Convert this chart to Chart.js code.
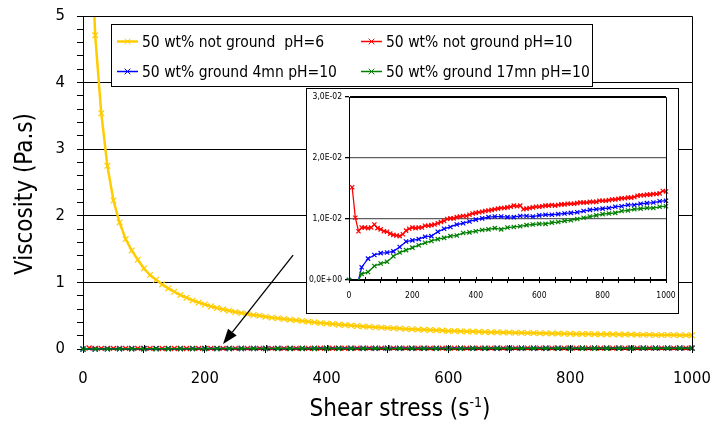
<!DOCTYPE html>
<html>
<head>
<meta charset="utf-8">
<script src="https://cdn.jsdelivr.net/npm/chart.js@4.4.1/dist/chart.umd.min.js"></script>
<style>
  html, body { margin: 0; padding: 0; background: #fff; }
  #wrap { position: relative; width: 711px; height: 423px; overflow: hidden; }
  #main { position: absolute; left: 0; top: 0; }
  #insetBox { position: absolute; left: 306px; top: 88px; width: 371px; height: 224px;
              border: 1px solid #000; background: #fff; }
  #inset { position: absolute; left: 0; top: 0; }
</style>
</head>
<body>
<div id="wrap">
  <canvas id="main" width="711" height="423"></canvas>
  <div id="insetBox"><canvas id="inset" width="371" height="224"></canvas></div>
</div>
<script>
// ---- shear rates (s-1) ----
const shearRate10 = [10,20,30,40,50,60,70,80,90,100,110,120,130,140,150,160,170,180,190,200,
  210,220,230,240,250,260,270,280,290,300,310,320,330,340,350,360,370,380,390,400,
  410,420,430,440,450,460,470,480,490,500,510,520,530,540,550,560,570,580,590,600,
  610,620,630,640,650,660,670,680,690,700,710,720,730,740,750,760,770,780,790,800,
  810,820,830,840,850,860,870,880,890,900,910,920,930,940,950,960,970,980,990,1000];
const shearRate20 = [0,20,40,60,80,100,120,140,160,180,200,220,240,260,280,300,320,340,360,380,
  400,420,440,460,480,500,520,540,560,580,600,620,640,660,680,700,720,740,760,780,
  800,820,840,860,880,900,920,940,960,980,1000];

// ---- viscosity (Pa.s) ----
const notGroundPH6 = [7.0,4.71,3.54,2.75,2.23,1.90,1.65,1.48,1.34,1.21,
  1.11,1.04,0.97,0.91,0.86,0.81,0.77,0.73,0.70,0.67,
  0.64,0.615,0.595,0.575,0.555,0.54,0.525,0.51,0.50,0.485,
  0.47,0.46,0.45,0.44,0.43,0.42,0.41,0.40,0.39,0.382,
  0.374,0.366,0.359,0.352,0.345,0.339,0.333,0.327,0.322,0.317,
  0.312,0.307,0.302,0.297,0.292,0.288,0.284,0.28,0.276,0.272,
  0.269,0.266,0.263,0.261,0.258,0.256,0.253,0.251,0.249,0.247,
  0.245,0.243,0.241,0.239,0.237,0.235,0.234,0.232,0.23,0.229,
  0.227,0.226,0.225,0.223,0.222,0.221,0.22,0.218,0.217,0.216,
  0.215,0.214,0.213,0.212,0.211,0.21,0.209,0.208,0.207,0.206];
const notGroundPH10 = [0.0152,0.0102,0.0080,0.0086,0.0086,0.0085,0.0086,0.0091,0.0085,0.0083,
  0.0080,0.0079,0.0076,0.0074,0.0073,0.0072,0.0075,0.0081,0.0084,0.0086,
  0.0085,0.0086,0.0086,0.0089,0.0089,0.0090,0.0091,0.0093,0.0095,0.0097,
  0.0100,0.0101,0.0101,0.0103,0.0104,0.0105,0.0105,0.0107,0.0109,0.0110,
  0.0111,0.0112,0.0113,0.0114,0.0115,0.0116,0.0117,0.0118,0.0118,0.0119,
  0.0120,0.0122,0.0121,0.0122,0.0116,0.0117,0.0118,0.0119,0.0120,0.0120,
  0.0121,0.0122,0.0122,0.0123,0.0122,0.0123,0.0124,0.0124,0.0125,0.0125,
  0.0125,0.0126,0.0127,0.0127,0.0127,0.0128,0.0128,0.0128,0.0130,0.0130,
  0.0130,0.0131,0.0132,0.0132,0.0133,0.0134,0.0134,0.0135,0.0135,0.0136,
  0.0138,0.0139,0.0139,0.0140,0.0140,0.0141,0.0141,0.0142,0.0146,0.0145];
const ground4mnPH10 = [0,-0.0021,0.0021,0.0035,0.0041,0.0044,0.0045,0.0047,0.0054,0.0063,
  0.0065,0.0067,0.0071,0.0072,0.0079,0.0084,0.0087,0.0091,0.0093,0.0096,
  0.0099,0.0101,0.0103,0.0104,0.0104,0.0103,0.0103,0.0105,0.0105,0.0104,
  0.0106,0.0107,0.0107,0.0108,0.0109,0.0110,0.0111,0.0113,0.0115,0.0116,
  0.0117,0.0118,0.0120,0.0121,0.0123,0.0123,0.0125,0.0126,0.0127,0.0129,
  0.0130];
const ground17mnPH10 = [0,-0.0010,0.0010,0.0013,0.0023,0.0027,0.0030,0.0039,0.0045,0.0049,
  0.0053,0.0057,0.0061,0.0064,0.0067,0.0069,0.0072,0.0073,0.0077,0.0078,
  0.0080,0.0082,0.0083,0.0085,0.0083,0.0086,0.0087,0.0088,0.0090,0.0091,
  0.0092,0.0092,0.0094,0.0095,0.0097,0.0098,0.0100,0.0102,0.0104,0.0106,
  0.0108,0.0109,0.0110,0.0113,0.0114,0.0116,0.0117,0.0118,0.0118,0.0120,
  0.0121];

// ---- labels ----
const seriesLabels = ['50 wt% not ground  pH=6', '50 wt% not ground pH=10',
                      '50 wt% ground 4mn pH=10', '50 wt% ground 17mn pH=10'];
const mainYTickLabels = ['0', '1', '2', '3', '4', '5'];
const insetYTickLabels = ['0,0E+00', '1,0E-02', '2,0E-02', '3,0E-02'];
const xTitle = 'Shear stress (s';
const xTitleSup = '-1';
const yTitle = 'Viscosity (Pa.s)';

const FONT = "'DejaVu Sans Condensed', 'DejaVu Sans', sans-serif";
Chart.defaults.font.family = FONT;
Chart.defaults.color = '#000';

const COLORS = ['#FFCC00', '#FF0000', '#0000FF', '#008000'];

function isWhole(v) { return Math.abs(v - Math.round(v)) < 1e-6; }

function makeSeries(i, xs, ys, width, radius, order, clipBottom) {
  return {
    label: seriesLabels[i],
    data: xs.map((x, k) => ({ x: x, y: ys[k] })),
    borderColor: COLORS[i], backgroundColor: COLORS[i],
    borderWidth: width, pointStyle: 'crossRot', pointRadius: radius,
    pointBorderWidth: 1.2, pointBorderColor: COLORS[i],
    tension: 0, fill: false, order: order,
    clip: { left: 6, right: 6, top: 0, bottom: clipBottom }
  };
}

// keep the plot area exactly where the layout padding puts it
function pinScale(size) {
  return s => {
    if (s.isHorizontal()) s.height = size; else s.width = size;
    s.paddingLeft = 0; s.paddingRight = 0; s.paddingTop = 0; s.paddingBottom = 0;
  };
}

// frame on the top and right of the plot area
const frame = {
  id: 'frame',
  afterDraw(chart) {
    const { ctx, chartArea: a } = chart;
    ctx.save();
    ctx.strokeStyle = '#000'; ctx.lineWidth = 1;
    const l = Math.round(a.left) + 0.5, r = Math.round(a.right) + 0.5;
    const t = Math.round(a.top) + 0.5, b = Math.round(a.bottom) + 0.5;
    ctx.beginPath();
    ctx.moveTo(l, t); ctx.lineTo(r, t); ctx.lineTo(r, b);
    ctx.stroke();
    ctx.restore();
  }
};

// inner half of the x tick marks (ticks cross the axis)
const crossTicks = {
  id: 'crossTicks',
  afterDraw(chart, args, opts) {
    const { ctx, scales: { x } } = chart;
    const y0 = Math.round(chart.chartArea.bottom);
    ctx.save();
    ctx.strokeStyle = '#000'; ctx.lineWidth = 1;
    x.ticks.forEach(t => {
      const px = Math.round(x.getPixelForValue(t.value)) + 0.5;
      ctx.beginPath(); ctx.moveTo(px, y0 - opts.len); ctx.lineTo(px, y0); ctx.stroke();
    });
    ctx.restore();
  }
};

function drawMarker(ctx, x, y, r, color) {
  const d = r * Math.SQRT1_2;
  ctx.strokeStyle = color; ctx.lineWidth = 1;
  ctx.beginPath();
  ctx.moveTo(x - d, y - d); ctx.lineTo(x + d, y + d);
  ctx.moveTo(x + d, y - d); ctx.lineTo(x - d, y + d);
  ctx.stroke();
}

// boxed two-column legend inside the plot
const boxLegend = {
  id: 'boxLegend',
  afterDraw(chart, args, o) {
    const { ctx } = chart;
    const ds = chart.data.datasets;
    ctx.save();
    ctx.fillStyle = '#fff';
    ctx.fillRect(o.x, o.y, o.w, o.h);
    ctx.strokeStyle = '#000'; ctx.lineWidth = 1;
    ctx.strokeRect(o.x + 0.5, o.y + 0.5, o.w, o.h);
    ctx.font = o.fontSize + 'px ' + FONT;
    ctx.textBaseline = 'middle';
    ctx.textAlign = 'left';
    ds.forEach((d, i) => {
      const col = i % 2, row = Math.floor(i / 2);
      const lx = o.x + o.colX[col], ly = o.y + o.rowY[row];
      ctx.strokeStyle = d.borderColor;
      ctx.lineWidth = d.borderWidth;
      ctx.beginPath(); ctx.moveTo(lx, ly); ctx.lineTo(lx + o.lineLen, ly); ctx.stroke();
      drawMarker(ctx, lx + o.lineLen / 2, ly, 4, d.borderColor);
      ctx.fillStyle = '#000';
      ctx.fillText(d.label, lx + o.lineLen + o.gap, ly + 1);
    });
    ctx.restore();
  }
};

// arrow pointing from the inset down to the near-zero curves
const arrowFrom = { x: 345, y: 1.41 };
const arrowTo = { x: 230, y: 0.075 };
const pointer = {
  id: 'pointer',
  afterDraw(chart) {
    const { ctx, scales: { x, y } } = chart;
    const x1 = x.getPixelForValue(arrowFrom.x), y1 = y.getPixelForValue(arrowFrom.y);
    const x2 = x.getPixelForValue(arrowTo.x), y2 = y.getPixelForValue(arrowTo.y);
    const ang = Math.atan2(y2 - y1, x2 - x1);
    const hl = 15, hw = 5.5;
    const bx = x2 - hl * Math.cos(ang), by = y2 - hl * Math.sin(ang);
    ctx.save();
    ctx.strokeStyle = '#000'; ctx.fillStyle = '#000'; ctx.lineWidth = 1.3;
    ctx.beginPath(); ctx.moveTo(x1, y1); ctx.lineTo(bx, by); ctx.stroke();
    ctx.beginPath();
    ctx.moveTo(x2, y2);
    ctx.lineTo(bx + hw * Math.sin(ang), by - hw * Math.cos(ang));
    ctx.lineTo(bx - hw * Math.sin(ang), by + hw * Math.cos(ang));
    ctx.closePath(); ctx.fill();
    ctx.restore();
  }
};

// axis titles (x title carries a superscript)
const axisTitles = {
  id: 'axisTitles',
  afterDraw(chart, args, o) {
    const { ctx } = chart;
    ctx.save();
    ctx.fillStyle = '#000';
    ctx.textBaseline = 'alphabetic';
    ctx.textAlign = 'left';
    const big = o.size + 'px ' + FONT, small = o.supSize + 'px ' + FONT;
    ctx.font = big;
    const w1 = ctx.measureText(xTitle).width, w3 = ctx.measureText(')').width;
    ctx.font = small;
    const w2 = ctx.measureText(xTitleSup).width;
    let sx = o.xCenter - (w1 + w2 + w3) / 2;
    ctx.font = big; ctx.fillText(xTitle, sx, o.xBase);
    ctx.font = small; ctx.fillText(xTitleSup, sx + w1, o.xBase - o.supRise);
    ctx.font = big; ctx.fillText(')', sx + w1 + w2, o.xBase);
    ctx.translate(o.yTitleX, o.yTitleY);
    ctx.rotate(-Math.PI / 2);
    ctx.textAlign = 'center'; ctx.textBaseline = 'middle';
    ctx.fillText(yTitle, 0, 0);
    ctx.restore();
  }
};

// ---------- main chart ----------
new Chart(document.getElementById('main'), {
  type: 'line',
  data: {
    datasets: [
      makeSeries(0, shearRate10, notGroundPH6, 2.5, 4, 0, 6),
      makeSeries(1, shearRate10, notGroundPH10, 1.5, 3.5, 3, 6),
      makeSeries(2, shearRate20, ground4mnPH10, 1.5, 3.5, 2, 6),
      makeSeries(3, shearRate20, ground17mnPH10, 1.5, 3.5, 1, 6)
    ]
  },
  options: {
    responsive: false, animation: false, events: [],
    layout: { padding: { top: 16, right: 19, left: 0, bottom: 0 } },
    plugins: {
      legend: { display: false }, tooltip: { enabled: false },
      crossTicks: { len: 4 },
      boxLegend: { x: 111, y: 24, w: 481, h: 62, colX: [6, 250], rowY: [17.5, 47.5],
                   lineLen: 21, gap: 4, fontSize: 15.5 },
      axisTitles: { size: 24, supSize: 14, supRise: 9, xCenter: 400, xBase: 416,
                    yTitleX: 26, yTitleY: 194 }
    },
    scales: {
      x: {
        type: 'linear', min: 0, max: 1000,
        ticks: { stepSize: 100, autoSkip: false, maxRotation: 0,
                 callback: v => (v % 200 === 0 ? String(v) : ''),
                 font: { size: 16.5 }, padding: 16 },
        grid: { drawOnChartArea: false, drawTicks: true, tickLength: 4, tickColor: '#000' },
        border: { color: '#000', width: 1 },
        afterFit: pinScale(74)
      },
      y: {
        min: 0, max: 5,
        ticks: { stepSize: 0.2, autoSkip: false,
                 callback: v => (isWhole(v) ? mainYTickLabels[Math.round(v)] : ''),
                 font: { size: 16.5 }, padding: 12 },
        grid: { color: c => (isWhole(c.tick.value) ? '#000' : 'rgba(0,0,0,0)'),
                lineWidth: 1, tickLength: 6, tickColor: '#000' },
        border: { color: '#000', width: 1 },
        afterFit: pinScale(83)
      }
    }
  },
  plugins: [frame, crossTicks, pointer, boxLegend, axisTitles]
});

// ---------- inset (zoom on the pH=10 curves) ----------
new Chart(document.getElementById('inset'), {
  type: 'line',
  data: {
    datasets: [
      makeSeries(1, shearRate10, notGroundPH10, 1.3, 3, 3, 0),
      makeSeries(2, shearRate20, ground4mnPH10, 1.3, 3, 2, 0),
      makeSeries(3, shearRate20, ground17mnPH10, 1.3, 3, 1, 0)
    ]
  },
  options: {
    responsive: false, animation: false, events: [],
    layout: { padding: { top: 8, right: 12, left: 0, bottom: 0 } },
    plugins: { legend: { display: false }, tooltip: { enabled: false }, crossTicks: { len: 3 } },
    scales: {
      x: {
        type: 'linear', min: 0, max: 1000,
        ticks: { stepSize: 50, autoSkip: false, maxRotation: 0,
                 callback: v => (v % 200 === 0 ? String(v) : ''),
                 font: { size: 8.5 }, padding: 8 },
        grid: { drawOnChartArea: false, drawTicks: true, tickLength: 3, tickColor: '#000' },
        border: { color: '#000', width: 1 },
        afterFit: pinScale(33)
      },
      y: {
        min: 0, max: 0.03,
        ticks: { stepSize: 0.01, autoSkip: false,
                 callback: (v, i) => insetYTickLabels[i],
                 font: { size: 8.5 }, padding: 3 },
        grid: { color: c => (c.tick.value > 0.001 && c.tick.value < 0.029 ? '#606060' : '#000'),
                lineWidth: 1.3, tickLength: 4, tickColor: '#000' },
        border: { color: '#000', width: 1 },
        afterFit: pinScale(42)
      }
    }
  },
  plugins: [frame, crossTicks]
});
</script>
</body>
</html>
